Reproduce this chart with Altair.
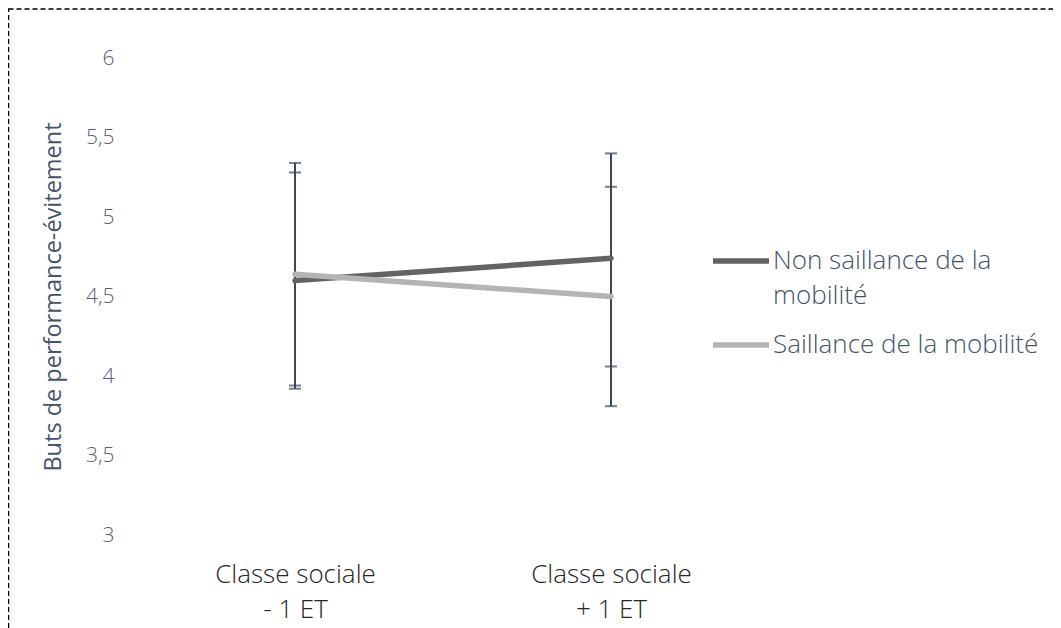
import altair as alt
import pandas as pd

# ---- data ----
categories = ["Classe sociale - 1 ET", "Classe sociale + 1 ET"]
series = ["Non saillance de la mobilité", "Saillance de la mobilité"]
non_saillance_mean = [4.60, 4.74]
saillance_mean = [4.64, 4.50]
non_saillance_low = [3.92, 4.06]
non_saillance_high = [5.28, 5.40]
saillance_low = [3.94, 3.81]
saillance_high = [5.34, 5.19]
y_ticks = [3, 3.5, 4, 4.5, 5, 5.5, 6]
line_colors = ["#636363", "#b4b4b4"]

rows = []
for i, c in enumerate(categories):
    rows.append({"cat": c, "serie": series[0], "mean": non_saillance_mean[i],
                 "low": non_saillance_low[i], "high": non_saillance_high[i]})
    rows.append({"cat": c, "serie": series[1], "mean": saillance_mean[i],
                 "low": saillance_low[i], "high": saillance_high[i]})
df = pd.DataFrame(rows)

FONT = "Open Sans"
TEXT_BLUE = "#44546a"
BAR_COLOR = "#3a475e"

x_enc = alt.X(
    "cat:N",
    scale=alt.Scale(type="point", padding=0.5, domain=categories),
    axis=alt.Axis(
        title=None, domain=False, ticks=False, grid=False, labelAngle=0,
        labelPadding=26, labelFontSize=26, labelFontWeight=300,
        labelColor="#262626", labelFont=FONT,
        labelLineHeight=35, labelLimit=400,
        labelExpr="[slice(datum.label, 0, 14), slice(datum.label, 15)]",
    ),
)
y_scale = alt.Scale(domain=[3, 6], nice=False, zero=False)
y_axis = alt.Axis(
    title="Buts de performance-évitement", values=y_ticks, domain=False, ticks=False,
    grid=False, labelPadding=23, labelFontSize=21, labelFontWeight=300,
    labelColor="#56607a", labelFont=FONT,
    labelExpr="replace(format(datum.value, '.1~f'), '.', ',')",
    titleFontSize=23.5, titleColor=TEXT_BLUE, titleFont=FONT, titleFontWeight="normal",
    titlePadding=20,
)

base = alt.Chart(df)

bars = base.mark_rule(color=BAR_COLOR, strokeWidth=2).encode(
    x=x_enc,
    y=alt.Y("low:Q", scale=y_scale, axis=y_axis),
    y2="high:Q",
)
caps_low = base.mark_tick(color=BAR_COLOR, thickness=2, size=12, orient="horizontal").encode(
    x=x_enc, y=alt.Y("low:Q", scale=y_scale)
)
caps_high = base.mark_tick(color=BAR_COLOR, thickness=2, size=12, orient="horizontal").encode(
    x=x_enc, y=alt.Y("high:Q", scale=y_scale)
)

lines = base.mark_line(strokeWidth=5.5, strokeCap="round").encode(
    x=x_enc,
    y=alt.Y("mean:Q", scale=y_scale),
    color=alt.Color(
        "serie:N",
        scale=alt.Scale(domain=series, range=line_colors),
        legend=alt.Legend(
            orient="none", legendX=573, legendY=172, title=None,
            symbolType="stroke", symbolSize=3136, symbolStrokeWidth=5.5,
            labelFontSize=26, labelFontWeight=300, labelColor=TEXT_BLUE, labelFont=FONT,
            labelOffset=1, rowPadding=5, padding=0, labelLimit=400,
            labelExpr="length(datum.label) > 24 ? [slice(datum.label, 0, 19), slice(datum.label, 20)] : datum.label",
        ),
    ),
)

border = alt.Chart(pd.DataFrame({"b": [0]})).mark_rect(
    fill="transparent", stroke="black", strokeDash=[5, 3], strokeWidth=1.5
).encode(
    x=alt.value(-128.5), x2=alt.value(3000), y=alt.value(-49), y2=alt.value(3000)
)

chart = alt.layer(border, bars, caps_low, caps_high, lines).properties(
    width=632, height=477,
    autosize=alt.AutoSizeParams(type="none"),
    padding={"left": 129, "top": 50, "right": 284, "bottom": 93},
).configure(
    style={"guide-label": {"lineHeight": 35}},
    view=alt.ViewConfig(stroke="transparent"),
)

chart.save("out.html", embed_options={"renderer": "svg", "actions": False})
